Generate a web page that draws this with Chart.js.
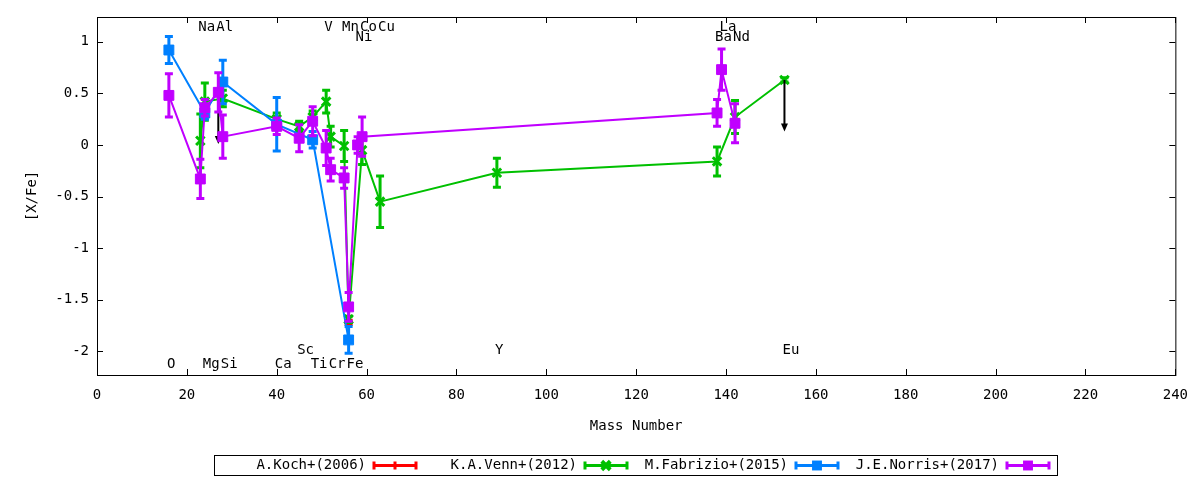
<!DOCTYPE html>
<html>
<head>
<meta charset="utf-8">
<title>[X/Fe] vs Mass Number</title>
<script src="https://cdn.jsdelivr.net/npm/chart.js/dist/chart.umd.min.js"></script>
<style>
  html, body { margin: 0; padding: 0; background: #fff; }
  #wrap { width: 1200px; height: 480px; }
</style>
</head>
<body>
<div id="wrap"><canvas id="chartXFe" width="1200" height="480"></canvas></div>
<script>
// A.Koch+(2006)
var kochMass = [56];
var kochVal = [-1.72];
var kochErr = [0.02];
// K.A.Venn+(2012)
var vennMass = [23, 24, 28, 40, 45, 48, 51, 52, 55, 56, 59, 63, 89, 138, 142, 153];
var vennVal = [0.04, 0.42, 0.45, 0.25, 0.18, 0.27, 0.42, 0.08, -0.01, -1.69, -0.05, -0.55, -0.27, -0.16, 0.27, 0.63];
var vennErr = [0.26, 0.18, 0.08, 0.06, 0.05, 0.06, 0.11, 0.10, 0.15, 0.03, 0.14, 0.25, 0.14, 0.14, 0.16, 0.02];
// M.Fabrizio+(2015)
var fabrMass = [16, 24, 28, 40, 48, 56];
var fabrVal = [0.92, 0.31, 0.61, 0.20, 0.05, -1.89];
var fabrErr = [0.13, 0.06, 0.21, 0.26, 0.08, 0.13];
// J.E.Norris+(2017)
var norrMass = [16, 23, 24, 27, 28, 40, 45, 48, 51, 52, 55, 56, 58, 59, 138, 139, 142];
var norrVal = [0.48, -0.33, 0.36, 0.51, 0.08, 0.18, 0.065, 0.23, -0.03, -0.24, -0.32, -1.57, 0.0, 0.08, 0.31, 0.73, 0.21];
var norrErr = [0.21, 0.19, 0.08, 0.19, 0.21, 0.08, 0.13, 0.14, 0.17, 0.11, 0.10, 0.14, 0.08, 0.19, 0.13, 0.20, 0.19];

// upper limits, drawn as arrows
var limitMass = [27, 153];
var limitFrom = [0.51, 0.63];
var limitTo = [0.01, 0.13];

// element names written along the top and bottom of the plot
var elemName = ["O", "Na", "Mg", "Al", "Si", "Ca", "Sc", "Ti", "V", "Cr", "Mn", "Fe", "Ni", "Co", "Cu", "Y", "Ba", "La", "Nd", "Eu"];
var elemMass = [16, 23, 24, 27, 28, 40, 45, 48, 51, 52, 55, 56, 58, 59, 63, 89, 138, 139, 142, 153];
var elemY = [-2.12, 1.15, -2.12, 1.15, -2.12, -2.12, -1.98, -2.12, 1.15, -2.12, 1.15, -2.12, 1.05, 1.15, 1.15, -1.98, 1.05, 1.15, 1.05, -1.98];

var xTicks = [0, 20, 40, 60, 80, 100, 120, 140, 160, 180, 200, 220, 240];
var yTicks = [-2, -1.5, -1, -0.5, 0, 0.5, 1];

var FONT = "'DejaVu Sans Mono', monospace";
Chart.defaults.font.family = FONT;
Chart.defaults.font.size = 14;
Chart.defaults.color = "#000";

function points(xs, ys) {
  return xs.map(function (x, i) { return { x: x, y: ys[i] }; });
}

function series(label, xs, ys, errs, color, style, radius, pbw, order) {
  return {
    label: label,
    data: points(xs, ys),
    errors: errs,
    showLine: true,
    borderColor: color,
    backgroundColor: color,
    borderWidth: 2,
    pointStyle: style,
    pointRadius: radius,
    pointBorderWidth: pbw,
    pointBorderColor: color,
    pointBackgroundColor: color,
    order: order
  };
}

function drawMarker(ctx, style, x, y, r, w) {
  ctx.lineWidth = w;
  ctx.beginPath();
  if (style === "rect") {
    var s = r * Math.SQRT1_2;
    ctx.fillRect(x - s, y - s, 2 * s, 2 * s);
  } else if (style === "crossRot") {
    var d = r * Math.SQRT1_2;
    ctx.moveTo(x - d, y - d); ctx.lineTo(x + d, y + d);
    ctx.moveTo(x + d, y - d); ctx.lineTo(x - d, y + d);
    ctx.stroke();
  } else {
    ctx.moveTo(x - r, y); ctx.lineTo(x + r, y);
    ctx.moveTo(x, y - r); ctx.lineTo(x, y + r);
    ctx.stroke();
  }
}

// vertical error bars with caps, drawn under each dataset's line and points
var errorBars = {
  id: "errorBars",
  beforeDatasetDraw: function (chart, args) {
    var ds = chart.data.datasets[args.index];
    var ctx = chart.ctx, xs = chart.scales.x, ys = chart.scales.y;
    ctx.save();
    ctx.strokeStyle = ds.borderColor;
    ctx.lineWidth = 3;
    ds.data.forEach(function (p, i) {
      var x = xs.getPixelForValue(p.x);
      var t = ys.getPixelForValue(p.y + ds.errors[i]);
      var b = ys.getPixelForValue(p.y - ds.errors[i]);
      ctx.beginPath();
      ctx.moveTo(x, t); ctx.lineTo(x, b);
      ctx.moveTo(x - 4, t); ctx.lineTo(x + 4, t);
      ctx.moveTo(x - 4, b); ctx.lineTo(x + 4, b);
      ctx.stroke();
    });
    ctx.restore();
  },
  afterDatasetDraw: function (chart, args) {
    var ds = chart.data.datasets[args.index];
    if (!ds.limits) return;
    var ctx = chart.ctx, xs = chart.scales.x, ys = chart.scales.y;
    ctx.save();
    ctx.strokeStyle = "#000";
    ctx.fillStyle = "#000";
    ctx.lineWidth = 2;
    limitMass.forEach(function (m, i) {
      var x = xs.getPixelForValue(m);
      var y0 = ys.getPixelForValue(limitFrom[i]);
      var y1 = ys.getPixelForValue(limitTo[i]);
      ctx.beginPath();
      ctx.moveTo(x, y0); ctx.lineTo(x, y1 - 6);
      ctx.stroke();
      ctx.beginPath();
      ctx.moveTo(x - 3.5, y1 - 8); ctx.lineTo(x + 3.5, y1 - 8); ctx.lineTo(x, y1);
      ctx.closePath();
      ctx.fill();
    });
    ctx.restore();
  }
};

// gnuplot style frame with inward ticks on all four sides, plus element names
var frame = {
  id: "frame",
  beforeDatasetsDraw: function (chart) {
    var ctx = chart.ctx, a = chart.chartArea, xs = chart.scales.x, ys = chart.scales.y;
    ctx.save();
    ctx.strokeStyle = "#000";
    ctx.lineWidth = 1;
    ctx.strokeRect(a.left + 0.5, a.top + 0.5, a.right - a.left, a.bottom - a.top);
    ctx.beginPath();
    xs.ticks.forEach(function (t) {
      var x = Math.round(xs.getPixelForValue(t.value)) + 0.5;
      ctx.moveTo(x, a.bottom); ctx.lineTo(x, a.bottom - 6);
      ctx.moveTo(x, a.top); ctx.lineTo(x, a.top + 6);
    });
    ys.ticks.forEach(function (t) {
      var y = Math.round(ys.getPixelForValue(t.value)) + 0.5;
      ctx.moveTo(a.left, y); ctx.lineTo(a.left + 6, y);
      ctx.moveTo(a.right, y); ctx.lineTo(a.right - 6, y);
    });
    ctx.stroke();

    ctx.fillStyle = "#000";
    ctx.font = "14px " + FONT;
    ctx.textAlign = "left";
    ctx.textBaseline = "middle";
    elemName.forEach(function (n, i) {
      ctx.fillText(n, xs.getPixelForValue(elemMass[i]) - 2, ys.getPixelForValue(elemY[i]) + 1);
    });
    ctx.restore();
  }
};

// key box under the plot: text first, then a sample error bar
var keyBox = {
  id: "keyBox",
  afterDraw: function (chart) {
    var ctx = chart.ctx;
    ctx.save();
    ctx.strokeStyle = "#000";
    ctx.lineWidth = 1;
    ctx.strokeRect(214.5, 455.5, 843, 20);
    ctx.font = "14px " + FONT;
    ctx.textAlign = "right";
    ctx.textBaseline = "middle";
    chart.data.datasets.forEach(function (ds, i) {
      var tx = 366 + i * 211, y = 465.5;
      ctx.fillStyle = "#000";
      ctx.fillText(ds.label, tx, y);
      var x0 = tx + 8, x1 = tx + 50;
      ctx.strokeStyle = ds.borderColor;
      ctx.fillStyle = ds.borderColor;
      ctx.lineWidth = 3;
      ctx.beginPath();
      ctx.moveTo(x0, y); ctx.lineTo(x1, y);
      ctx.moveTo(x0, y - 4); ctx.lineTo(x0, y + 4);
      ctx.moveTo(x1, y - 4); ctx.lineTo(x1, y + 4);
      ctx.stroke();
      drawMarker(ctx, ds.pointStyle, (x0 + x1) / 2, y, ds.pointRadius, ds.pointBorderWidth + 1);
    });
    ctx.restore();
  }
};

var venn = series("K.A.Venn+(2012)", vennMass, vennVal, vennErr, "#00c000", "crossRot", 6, 3, 3);
venn.limits = true;

var ChartXFe = new Chart(document.getElementById("chartXFe"), {
  type: "scatter",
  data: {
    datasets: [
      series("A.Koch+(2006)", kochMass, kochVal, kochErr, "#ff0000", "cross", 4, 2, 4),
      venn,
      series("M.Fabrizio+(2015)", fabrMass, fabrVal, fabrErr, "#0080ff", "rect", 7, 1, 2),
      series("J.E.Norris+(2017)", norrMass, norrVal, norrErr, "#c000ff", "rect", 7, 1, 1)
    ]
  },
  options: {
    responsive: false,
    animation: false,
    layout: { padding: { top: 17, right: 23, left: 0, bottom: 0 } },
    plugins: {
      legend: { display: false },
      tooltip: { enabled: false }
    },
    scales: {
      x: {
        type: "linear",
        min: 0,
        max: 240,
        afterBuildTicks: function (s) { s.ticks = xTicks.map(function (v) { return { value: v }; }); },
        afterFit: function (s) { s.height = 105; },
        grid: { display: false, drawTicks: false },
        border: { display: false },
        ticks: { padding: 12, autoSkip: false, maxRotation: 0, callback: function (v) { return String(v); } },
        title: { display: true, text: "Mass Number", padding: { top: 0, bottom: 45 } }
      },
      y: {
        type: "linear",
        min: -2.23,
        max: 1.24,
        afterBuildTicks: function (s) { s.ticks = yTicks.map(function (v) { return { value: v }; }); },
        afterFit: function (s) { s.width = 97; },
        grid: { display: false, drawTicks: false },
        border: { display: false },
        ticks: { padding: 8, autoSkip: false, callback: function (v) { return String(v); } },
        title: { display: true, text: "[X/Fe]", padding: { top: 24, bottom: 0 } }
      }
    }
  },
  plugins: [frame, errorBars, keyBox]
});
</script>
</body>
</html>
